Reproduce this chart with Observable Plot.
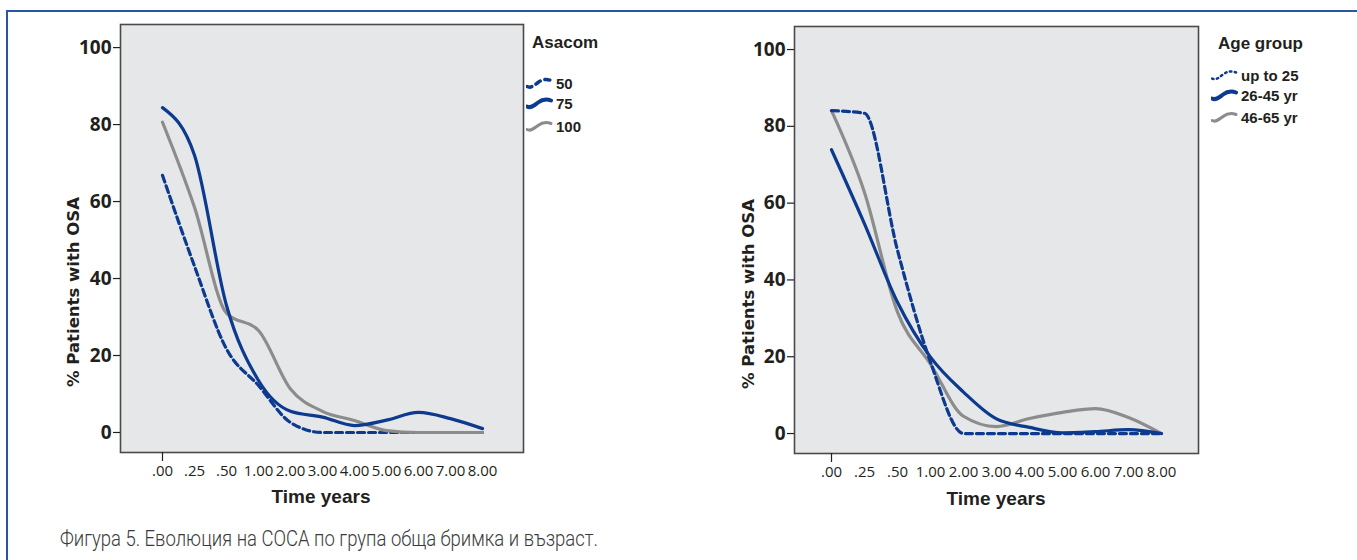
<!DOCTYPE html>
<html>
<head>
<meta charset="utf-8">
<script src="https://cdn.jsdelivr.net/npm/d3@7"></script>
<script src="https://cdn.jsdelivr.net/npm/@observablehq/plot@0.6"></script>
<style>
  html, body { margin: 0; padding: 0; background: #fff; }
  body { width: 1357px; height: 560px; position: relative; overflow: hidden; font-family: "Open Sans", sans-serif; color: #231f20; }
  .abs { position: absolute; }
  .frameline { position: absolute; left: 6px; top: 10px; width: 1500px; height: 700px; border-left: 2px solid #2a55a0; border-top: 2px solid #2a55a0; }
  .ytitle { position: absolute; font-family: "DejaVu Sans", sans-serif; font-weight: bold; font-size: 16.5px; white-space: nowrap; transform: translate(-50%, -50%) rotate(-90deg); }
  .xtitle { position: absolute; font-family: "Liberation Sans", Arial, sans-serif; font-weight: bold; font-size: 19px; white-space: nowrap; transform: translate(-50%, -50%); }
  .legtitle { position: absolute; font-family: "Liberation Sans", Arial, sans-serif; font-weight: bold; font-size: 17px; white-space: nowrap; transform: translateY(-50%); }
  .legitem { position: absolute; display: flex; align-items: center; font-family: "Liberation Sans", Arial, sans-serif; font-weight: bold; font-size: 15px; white-space: nowrap; transform: translateY(-50%); }
  .legitem svg { margin-right: 3px; }
  g[aria-label="y-axis tick label"] text { font-weight: bold; font-family: "Open Sans", "Liberation Sans", sans-serif; }
  g[aria-label="x-axis tick label"] text { font-family: "Open Sans", "Liberation Sans", sans-serif; }
</style>
</head>
<body>
<div class="frameline"></div>
<div id="left" class="abs" style="left:0;top:0"></div>
<div id="right" class="abs" style="left:680px;top:0"></div>
<script>
// ---- data ----
const cats = [".00", ".25", ".50", "1.00", "2.00", "3.00", "4.00", "5.00", "6.00", "7.00", "8.00"];
const yTicks = [0, 20, 40, 60, 80, 100];

const leftLegendTitle = "Asacom";
const leftNames = ["50", "75", "100"];
const asacom50  = [66.8, 43.2, 21.7, 12.2, 2.6, 0, 0, 0, 0, 0, 0];
const asacom75  = [84.4, 72.0, 33.0, 13.5, 5.5, 4.0, 1.8, 3.2, 5.2, 3.6, 1.0];
const asacom100 = [80.6, 58.5, 31.0, 26.5, 11.3, 5.5, 3.1, 0.5, 0, 0, 0];

const rightLegendTitle = "Age group";
const rightNames = ["up to 25", "26-45 yr", "46-65 yr"];
const ageUpTo25 = [84.1, 83.4, 47.7, 18.6, 0, 0, 0, 0, 0, 0, 0];
const age26to45 = [73.9, 54.6, 34.2, 19.9, 10.8, 3.8, 1.6, 0.2, 0.5, 1.0, 0];
const age46to65 = [84.1, 62.8, 31.6, 18.1, 4.5, 1.8, 3.9, 5.5, 6.5, 4.2, 0];

const yLabel = "% Patients with OSA";
const xLabel = "Time years";
const caption = "Фигура 5. Еволюция на СОСА по група обща бримка и възраст.";

// ---- styles ----
const BLUE = "#0b3a8f", GRAY = "#8c8c8c";

function chart(series, m) {
  const data = series.flatMap(s => s.values.map((v, i) => ({x: cats[i], y: v, key: s.name})));
  return Plot.plot({
    width: m.w, height: m.h,
    marginLeft: m.ml, marginRight: m.mr, marginTop: m.mt, marginBottom: m.mb,
    style: {fontFamily: "'Open Sans', sans-serif", color: "#231f20", background: "transparent", overflow: "visible"},
    x: {type: "point", domain: cats, padding: 1.12},
    y: {domain: [-5.2, 106]},
    marks: [
      Plot.frame({fill: "#e6e7e9", stroke: "#4a4a4a", strokeWidth: 1.6}),
      Plot.axisY({ticks: yTicks, tickSize: 7, tickPadding: 2, fontSize: 19, label: null, stroke: "#231f20", strokeWidth: 1.2}),
      Plot.axisX({tickSize: 0, tickPadding: 13, fontSize: 15, label: null}),
      Plot.axisX({ticks: [cats[0]], tickSize: 9, tickFormat: () => "", label: null, stroke: "#231f20", strokeWidth: 1.2}),
      ...series.map(s => Plot.line(data.filter(d => d.key === s.name), {
        x: "x", y: "y", stroke: s.color, strokeWidth: 3.2, strokeDasharray: s.dash, curve: "monotone-x"
      }))
    ]
  });
}

const leftSeries = [
  {name: leftNames[0], values: asacom50, color: BLUE, dash: "7,4"},
  {name: leftNames[2], values: asacom100, color: GRAY, dash: null},
  {name: leftNames[1], values: asacom75, color: BLUE, dash: null}
];
const rightSeries = [
  {name: rightNames[2], values: age46to65, color: GRAY, dash: null},
  {name: rightNames[0], values: ageUpTo25, color: BLUE, dash: "7,4"},
  {name: rightNames[1], values: age26to45, color: BLUE, dash: null}
];

document.getElementById("left").append(chart(leftSeries, {w: 530, h: 520, ml: 120, mr: 7, mt: 24, mb: 68}));
document.getElementById("right").append(chart(rightSeries, {w: 525, h: 520, ml: 114, mr: 7, mt: 26, mb: 67}));

// ---- titles, legends, caption ----
function addDiv(cls, text, left, top) {
  const d = document.createElement("div");
  d.className = cls; d.textContent = text;
  d.style.left = left + "px"; d.style.top = top + "px";
  document.body.append(d);
  return d;
}
addDiv("ytitle", yLabel, 73, 292);
addDiv("ytitle", yLabel, 748, 294);
addDiv("xtitle", xLabel, 321, 497);
addDiv("xtitle", xLabel, 996, 499);

const wave = "M1,11 C5,13 8,10 12,7 C16,4 20,3 25,5";
function legend(title, items, x, yTitle, ys) {
  addDiv("legtitle", title, x.title, yTitle);
  items.forEach((it, i) => {
    const d = document.createElement("div");
    d.className = "legitem";
    d.style.left = x.sym + "px"; d.style.top = ys[i] + "px";
    d.innerHTML = `<svg width="27" height="15" viewBox="0 0 27 15"><path d="${wave}" fill="none" stroke="${it.color}" stroke-width="${it.sw}" stroke-linecap="round" ${it.dash ? `stroke-dasharray="${it.dash}"` : ""}/></svg>`;
    const t = document.createElement("span"); t.textContent = it.name;
    d.append(t);
    document.body.append(d);
  });
}
legend(leftLegendTitle, [
  {name: leftNames[0], color: BLUE, sw: 3.5, dash: "5,5"},
  {name: leftNames[1], color: BLUE, sw: 4, dash: null},
  {name: leftNames[2], color: GRAY, sw: 3, dash: null}
], {title: 532, sym: 526}, 43, [83, 103, 126]);
legend(rightLegendTitle, [
  {name: rightNames[0], color: BLUE, sw: 2.5, dash: "1.5,3.5"},
  {name: rightNames[1], color: BLUE, sw: 4, dash: null},
  {name: rightNames[2], color: GRAY, sw: 3, dash: null}
], {title: 1218, sym: 1211}, 44, [75, 95, 117]);

const ns = "http://www.w3.org/2000/svg";
const cs = document.createElementNS(ns, "svg");
cs.setAttribute("width", 700); cs.setAttribute("height", 50);
cs.style.position = "absolute"; cs.style.left = "0px"; cs.style.top = "508px"; cs.style.overflow = "visible";
const ct = document.createElementNS(ns, "text");
ct.setAttribute("x", 60); ct.setAttribute("y", 38);
ct.setAttribute("textLength", 538); ct.setAttribute("lengthAdjust", "spacingAndGlyphs");
ct.setAttribute("font-family", "Roboto, 'Liberation Sans', sans-serif");
ct.setAttribute("font-weight", "300");
ct.setAttribute("font-size", "22");
ct.setAttribute("fill", "#3a3a3a");
ct.textContent = caption;
cs.append(ct);
document.body.append(cs);
</script>
</body>
</html>
